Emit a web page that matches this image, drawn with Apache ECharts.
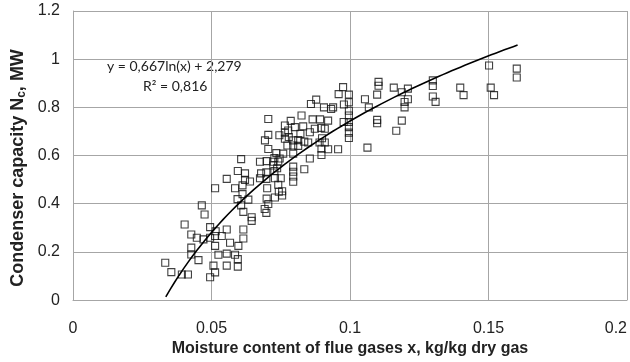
<!DOCTYPE html>
<html>
<head>
<meta charset="utf-8">
<script src="https://cdn.jsdelivr.net/npm/echarts@6/dist/echarts.min.js"></script>
<style>
  html, body { margin: 0; padding: 0; background: #fff; }
  #chart { width: 630px; height: 362px; }
</style>
</head>
<body>
<div id="chart"></div>
<script>
// Moisture content of flue gases, kg/kg dry gas
const moisture = [
  0.0333,0.0355,0.0393,0.0415,0.0403,0.0427,0.0427,0.0427,0.0447,0.0453,
  0.0465,0.0475,0.0471,0.0495,0.0495,0.0495,0.0507,0.0513,0.0513,0.0515,
  0.0513,0.0513,0.0525,0.0537,0.0555,0.0555,0.0567,0.0555,0.0555,0.0585,
  0.0585,0.0595,0.0595,0.0597,0.0594,0.0612,0.0607,0.0615,0.0615,0.0615,
  0.0607,0.0595,0.0621,0.0621,0.0612,0.0633,0.0639,0.0645,0.0645,0.0675,
  0.0679,0.0675,0.0693,0.0705,0.0705,0.0705,0.0699,0.0698,0.0698,0.0701,
  0.0699,0.0705,0.0692,0.0698,0.0727,0.0746,0.0734,0.0759,0.0723,0.0741,
  0.0723,0.0727,0.0737,0.0729,0.0750,0.0741,0.0743,0.0755,0.0729,0.0755,
  0.0745,0.0765,0.0786,0.0765,0.0765,0.0779,0.0795,0.0813,0.0774,0.0795,
  0.0813,0.0795,0.0795,0.0795,0.0795,0.0795,0.0801,0.0777,0.0831,0.0825,
  0.0821,0.0835,0.0849,0.0835,0.0855,0.0855,0.0865,0.0873,0.0878,0.0859,
  0.0892,0.0896,0.0909,0.0906,0.0921,0.0932,0.0939,0.0899,0.0890,0.0909,
  0.0897,0.0921,0.0897,0.0957,0.0959,0.0975,0.0996,0.0978,0.0996,0.0996,
  0.0996,0.0996,0.0996,0.0996,0.0996,0.0977,0.1054,0.1063,0.1068,0.1103,
  0.1103,0.1098,0.1098,0.1098,0.1158,0.1187,0.1209,0.1209,0.1197,0.1197,
  0.1187,0.1167,0.1299,0.1299,0.1299,0.1309,0.1398,0.1410,0.1502,0.1602,
  0.1602,0.1508,0.1520
];

// Condenser capacity, MW
const capacity = [
  0.155,0.116,0.106,0.106,0.314,0.272,0.218,0.189,0.259,0.166,
  0.393,0.355,0.252,0.303,0.259,0.095,0.143,0.464,0.266,0.286,
  0.225,0.115,0.188,0.266,0.503,0.293,0.238,0.193,0.143,0.464,
  0.188,0.170,0.139,0.225,0.419,0.440,0.393,0.366,0.293,0.256,
  0.585,0.536,0.526,0.499,0.476,0.417,0.492,0.344,0.329,0.574,
  0.526,0.506,0.663,0.686,0.752,0.627,0.577,0.530,0.503,0.464,
  0.421,0.399,0.378,0.362,0.590,0.588,0.610,0.608,0.574,0.574,
  0.559,0.536,0.547,0.506,0.506,0.479,0.450,0.452,0.426,0.434,
  0.684,0.725,0.744,0.695,0.670,0.677,0.663,0.664,0.642,0.642,
  0.640,0.608,0.554,0.533,0.513,0.491,0.718,0.704,0.721,0.766,
  0.690,0.658,0.654,0.543,0.588,0.697,0.750,0.711,0.832,0.814,
  0.750,0.715,0.711,0.800,0.745,0.793,0.800,0.672,0.654,0.654,
  0.628,0.626,0.602,0.626,0.855,0.884,0.853,0.812,0.821,0.786,
  0.766,0.739,0.718,0.695,0.673,0.739,0.834,0.633,0.800,0.906,
  0.890,0.853,0.748,0.734,0.882,0.863,0.878,0.834,0.822,0.800,
  0.745,0.703,0.912,0.889,0.845,0.823,0.882,0.851,0.974,0.961,
  0.924,0.882,0.851
];

// Logarithmic fit: y = FIT_A * ln(x) + FIT_B, over the measured range
const FIT_A = 0.667;
const FIT_B = 2.279;
const FIT_R2 = 0.816;
const fitRange = [0.0335, 0.1605];

const xTicks = { min: 0, max: 0.2, interval: 0.05 };
const yTicks = { min: 0, max: 1.2, interval: 0.2 };

const points = moisture.map((x, i) => [x, capacity[i]]);

const fitLine = [];
const steps = 80;
for (let i = 0; i <= steps; i++) {
  const x = fitRange[0] + (fitRange[1] - fitRange[0]) * i / steps;
  fitLine.push([x, FIT_A * Math.log(x) + FIT_B]);
}

const fmt = v => v.toFixed(3).replace('.', ',');

const gridColor = '#a6a6a6';
const textColor = '#222';
const font = '"Liberation Sans", Arial, sans-serif';

const chart = echarts.init(document.getElementById('chart'), null, { renderer: 'canvas' });

chart.setOption({
  animation: false,
  backgroundColor: '#fff',
  grid: { left: 73, right: 0, top: 11, bottom: 59 },
  xAxis: {
    type: 'value',
    min: xTicks.min, max: xTicks.max, interval: xTicks.interval,
    name: 'Moisture content of flue gases x, kg/kg dry gas',
    nameLocation: 'middle',
    nameGap: 37,
    nameTextStyle: { fontFamily: font, fontSize: 16, fontWeight: 'bold', color: textColor },
    axisLine: { show: true, lineStyle: { color: gridColor, width: 1 } },
    axisTick: { show: false },
    axisLabel: { fontFamily: font, fontSize: 16, color: textColor, margin: 20, alignMaxLabel: 'right' },
    splitLine: { show: true, lineStyle: { color: gridColor, width: 1 } }
  },
  yAxis: {
    type: 'value',
    min: yTicks.min, max: yTicks.max, interval: yTicks.interval,
    axisLine: { show: true, lineStyle: { color: gridColor, width: 1 } },
    axisTick: { show: false },
    axisLabel: { fontFamily: font, fontSize: 16, color: textColor, margin: 13 },
    splitLine: { show: true, lineStyle: { color: gridColor, width: 1 } }
  },
  graphic: [
    {
      // vertical axis title with subscript
      type: 'text', x: 18, y: 168, rotation: Math.PI / 2,
      style: {
        text: '{b|Condenser capacity N}{s|c}{b|, MW}',
        align: 'center', verticalAlign: 'middle',
        rich: {
          b: { fontFamily: font, fontSize: 18, fontWeight: 'bold', fill: textColor },
          s: { fontFamily: font, fontSize: 12, fontWeight: 'bold', fill: textColor, verticalAlign: 'bottom', padding: [8, 0, 0, 0] }
        }
      }
    },
    {
      type: 'text', left: 107, top: 59,
      style: { text: 'y = ' + fmt(FIT_A) + 'ln(x) + ' + fmt(FIT_B), font: '14px Lato, "Liberation Sans", sans-serif', fill: textColor }
    },
    {
      type: 'text', left: 143, top: 79,
      style: { text: 'R² = ' + fmt(FIT_R2), font: '14px Lato, "Liberation Sans", sans-serif', fill: textColor }
    }
  ],
  series: [
    {
      type: 'scatter',
      data: points,
      symbol: 'rect',
      symbolSize: 7,
      itemStyle: { color: 'rgba(255,255,255,0)', borderColor: '#111', borderWidth: 1.1 },
      silent: true,
      z: 2
    },
    {
      type: 'line',
      data: fitLine,
      showSymbol: false,
      smooth: false,
      lineStyle: { color: '#000', width: 1.6 },
      silent: true,
      z: 3
    }
  ]
});
</script>
</body>
</html>
